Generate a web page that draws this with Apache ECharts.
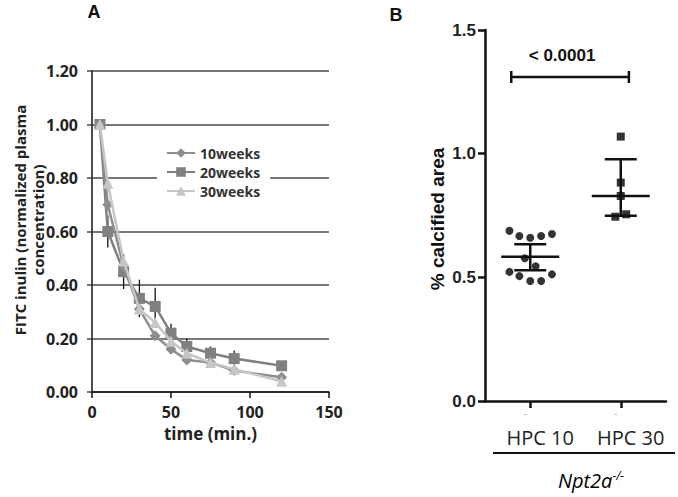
<!DOCTYPE html>
<html>
<head>
<meta charset="utf-8">
<script src="https://cdn.jsdelivr.net/npm/echarts@6/dist/echarts.min.js"></script>
<style>html,body{margin:0;padding:0;background:#fff;}#c{width:678px;height:497px;}</style>
</head>
<body>
<div id="c"></div>
<script>
// ---- Panel A data ----
const times = [5, 10, 20, 30, 40, 50, 60, 75, 90, 120];
const weeks10 = [1.00, 0.70, 0.47, 0.31, 0.21, 0.16, 0.12, 0.11, 0.08, 0.055];
const weeks20 = [1.00, 0.60, 0.45, 0.35, 0.32, 0.22, 0.17, 0.145, 0.125, 0.098];
const weeks30 = [1.00, 0.78, 0.49, 0.31, 0.26, 0.19, 0.145, 0.11, 0.085, 0.04];
const weeks20Err = [0, 0.06, 0.065, 0.07, 0.07, 0.035, 0.03, 0.025, 0.03, 0];
const seriesNamesA = ['10weeks', '20weeks', '30weeks'];

// ---- Panel B data ----
const groups = ['HPC 10', 'HPC 30'];
const hpc10 = [0.688, 0.667, 0.660, 0.667, 0.675, 0.577, 0.545, 0.522, 0.505, 0.485, 0.485, 0.512];
const hpc10Jitter = [-0.23, -0.12, 0, 0.12, 0.24, -0.06, 0.06, -0.23, -0.12, 0, 0.12, 0.24];
const hpc30 = [1.069, 0.883, 0.829, 0.745, 0.755];
const hpc30Jitter = [0, 0, 0, -0.06, 0.06];
const groupMean = [0.583, 0.829];
const groupLower = [0.529, 0.749];
const groupUpper = [0.634, 0.977];
const pValueText = '< 0.0001';
const sigBar = [0.29, 1.59, 1.31];

const fA = '"Open Sans", Lato, sans-serif';
const fB = '"Liberation Sans", Arial, sans-serif';

const chart = echarts.init(document.getElementById('c'), null, {renderer: 'svg'});

const pair = (arr) => times.map((t, i) => [t, arr[i]]);

const option = {
  animation: false,
  backgroundColor: '#fff',
  grid: [
    {left: 92, top: 71, width: 237, height: 321},
    {left: 485, top: 30, width: 181, height: 371}
  ],
  legend: {
    data: seriesNamesA,
    orient: 'vertical',
    left: 157, top: 142,
    padding: [4, 10, 4, 9],
    backgroundColor: '#fff',
    itemWidth: 28, itemHeight: 12, itemGap: 5,
    textStyle: {fontFamily: fA, fontWeight: 'bold', fontSize: 14, lineHeight: 14, color: '#333'}
  },
  xAxis: [
    {
      gridIndex: 0, type: 'value', min: 0, max: 150, interval: 50,
      name: 'time (min.)', nameLocation: 'middle', nameGap: 31,
      nameTextStyle: {fontFamily: fA, fontWeight: 'bold', fontSize: 17, color: '#222'},
      axisLine: {lineStyle: {color: '#111', width: 1.5}},
      axisTick: {show: true, length: 6, lineStyle: {color: '#111', width: 1.5}},
      axisLabel: {margin: 12, fontFamily: fA, fontWeight: 'bold', fontSize: 16, color: '#222'},
      splitLine: {show: false}
    },
    {
      gridIndex: 1, type: 'category', data: groups, position: 'bottom',
      axisLine: {lineStyle: {color: '#111', width: 2.5}},
      axisTick: {show: true, alignWithLabel: true, length: 7, lineStyle: {color: '#111', width: 2.5}},
      axisLabel: {margin: 26, padding: [0, 0, 0, 20], fontFamily: '"Open Sans", sans-serif', fontSize: 20, color: '#222'},
      splitLine: {show: false}
    },
    {gridIndex: 1, type: 'value', min: 0, max: 2, show: false, position: 'top'},
    {
      gridIndex: 1, type: 'category', data: groups, position: 'bottom', offset: 0,
      axisLine: {show: false}, axisTick: {show: false},
      axisLabel: {margin: 8, padding: [0, 10, 0, 0], formatter: () => '-', fontSize: 9, color: '#999'}
    }
  ],
  yAxis: [
    {
      gridIndex: 0, type: 'value', min: 0, max: 1.2, interval: 0.2,
      axisLine: {show: true, lineStyle: {color: '#111', width: 1.5}},
      axisTick: {show: true, length: 5, lineStyle: {color: '#444', width: 1.5}},
      axisLabel: {margin: 14, formatter: v => v.toFixed(2), fontFamily: fA, fontWeight: 'bold', fontSize: 16, color: '#222'},
      splitLine: {show: true, lineStyle: {color: '#4a4a4a', width: 1.5}}
    },
    {
      gridIndex: 1, type: 'value', min: 0, max: 1.5, interval: 0.5,
      axisLine: {show: true, lineStyle: {color: '#111', width: 2.5}},
      axisTick: {show: true, length: 7, lineStyle: {color: '#111', width: 2.5}},
      axisLabel: {margin: 9, formatter: v => v.toFixed(1), fontFamily: fB, fontWeight: 'bold', fontSize: 17, color: '#222'},
      splitLine: {show: false}
    }
  ],
  series: [
    {
      type: 'custom', name: 'err20', xAxisIndex: 0, yAxisIndex: 0, z: 1,
      data: times.map((t, i) => [t, weeks20[i] - weeks20Err[i], weeks20[i] + weeks20Err[i]]).filter((d, i) => weeks20Err[i] > 0),
      encode: {x: 0, y: [1, 2]},
      renderItem: (params, api) => {
        const a = api.coord([api.value(0), api.value(1)]);
        const b = api.coord([api.value(0), api.value(2)]);
        return {type: 'line', shape: {x1: a[0], y1: a[1], x2: b[0], y2: b[1]}, style: {stroke: '#111', lineWidth: 1.3}};
      }
    },
    {
      type: 'line', name: '10weeks', xAxisIndex: 0, yAxisIndex: 0, data: pair(weeks10),
      symbol: 'diamond', symbolSize: 11, color: '#8e8e8e',
      lineStyle: {width: 2.5, color: '#8e8e8e'}, itemStyle: {color: '#8e8e8e'}, z: 3
    },
    {
      type: 'line', name: '20weeks', xAxisIndex: 0, yAxisIndex: 0, data: pair(weeks20),
      symbol: 'rect', symbolSize: 11, color: '#808080',
      lineStyle: {width: 2.5, color: '#808080'}, itemStyle: {color: '#808080'}, z: 2
    },
    {
      type: 'line', name: '30weeks', xAxisIndex: 0, yAxisIndex: 0, data: pair(weeks30),
      symbol: 'triangle', symbolSize: 11, color: '#c6c6c6',
      lineStyle: {width: 2.5, color: '#c6c6c6'}, itemStyle: {color: '#c6c6c6'}, z: 4
    },
    {
      type: 'scatter', name: 'HPC 10', xAxisIndex: 2, yAxisIndex: 1,
      data: hpc10.map((v, i) => [0.5 + hpc10Jitter[i], v]),
      symbol: 'circle', symbolSize: 8, itemStyle: {color: '#000'}
    },
    {
      type: 'scatter', name: 'HPC 30', xAxisIndex: 2, yAxisIndex: 1,
      data: hpc30.map((v, i) => [1.5 + hpc30Jitter[i], v]),
      symbol: 'rect', symbolSize: 8, itemStyle: {color: '#000'}
    },
    {
      type: 'custom', name: 'meanSem', xAxisIndex: 1, yAxisIndex: 1, z: 5,
      data: groups.map((g, i) => [i, groupMean[i], groupLower[i], groupUpper[i]]),
      encode: {x: 0, y: [1, 2, 3]},
      renderItem: (params, api) => {
        const m = api.coord([api.value(0), api.value(1)]);
        const lo = api.coord([api.value(0), api.value(2)]);
        const hi = api.coord([api.value(0), api.value(3)]);
        const st = {stroke: '#111', lineWidth: 2.5};
        const x = m[0];
        return {type: 'group', children: [
          {type: 'line', shape: {x1: x - 29, y1: m[1], x2: x + 29, y2: m[1]}, style: st},
          {type: 'line', shape: {x1: x, y1: lo[1], x2: x, y2: hi[1]}, style: st},
          {type: 'line', shape: {x1: x - 16, y1: lo[1], x2: x + 16, y2: lo[1]}, style: st},
          {type: 'line', shape: {x1: x - 16, y1: hi[1], x2: x + 16, y2: hi[1]}, style: st}
        ]};
      }
    },
    {
      type: 'custom', name: 'sig', xAxisIndex: 2, yAxisIndex: 1, z: 5,
      data: [sigBar],
      encode: {x: [0, 1], y: 2},
      renderItem: (params, api) => {
        const a = api.coord([api.value(0), api.value(2)]);
        const b = api.coord([api.value(1), api.value(2)]);
        const st = {stroke: '#111', lineWidth: 2.5};
        return {type: 'group', children: [
          {type: 'line', shape: {x1: a[0], y1: a[1], x2: b[0], y2: b[1]}, style: st},
          {type: 'line', shape: {x1: a[0], y1: a[1] - 6, x2: a[0], y2: a[1] + 6}, style: st},
          {type: 'line', shape: {x1: b[0], y1: b[1] - 6, x2: b[0], y2: b[1] + 6}, style: st},
          {type: 'text', x: (a[0] + b[0]) / 2 - 8, y: a[1] - 21,
           style: {text: pValueText, fill: '#111', font: 'bold 17px ' + fB, textAlign: 'center', textVerticalAlign: 'middle'}}
        ]};
      }
    }
  ],
  graphic: [
    {type: 'text', x: 94, y: 12, style: {text: 'A', font: 'bold 18px ' + fB, fill: '#111', textAlign: 'center', textVerticalAlign: 'middle'}},
    {type: 'text', x: 396, y: 15, style: {text: 'B', font: 'bold 18px ' + fB, fill: '#111', textAlign: 'center', textVerticalAlign: 'middle'}},
    {type: 'text', x: 29, y: 220, rotation: Math.PI / 2,
     style: {text: 'FITC inulin (normalized plasma\nconcentration)', font: 'bold 15px ' + fA, lineHeight: 18, fill: '#222', textAlign: 'center', textVerticalAlign: 'middle'}},
    {type: 'text', x: 437, y: 219, rotation: Math.PI / 2,
     style: {text: '% calcified area', font: 'bold 19px ' + fB, fill: '#111', textAlign: 'center', textVerticalAlign: 'middle'}},
    {type: 'line', shape: {x1: 493, y1: 453, x2: 675, y2: 453}, style: {stroke: '#111', lineWidth: 2}},
    {type: 'text', x: 591, y: 480,
     style: {text: '{a|Npt2a}{s|-/-}', align: 'center', verticalAlign: 'middle',
       rich: {
         a: {fontFamily: '"Open Sans", sans-serif', fontStyle: 'italic', fontSize: 20, color: '#111'},
         s: {fontFamily: '"Open Sans", sans-serif', fontStyle: 'italic', fontSize: 12, color: '#111', verticalAlign: 'top', padding: [0, 0, 10, 0]}
       }}}
  ]
};
chart.setOption(option);
</script>
</body>
</html>
